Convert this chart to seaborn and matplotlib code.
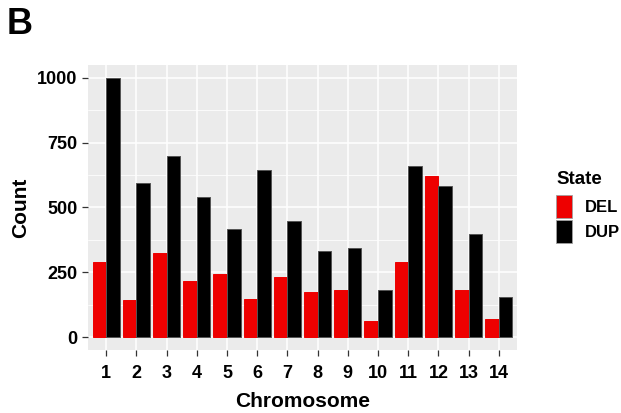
import matplotlib
matplotlib.use("Agg")
import matplotlib.pyplot as plt
from matplotlib.patches import Patch
from matplotlib.ticker import MultipleLocator
import seaborn as sns
import pandas as pd

chromosomes = [str(i) for i in range(1, 15)]
del_counts = [291, 142, 325, 216, 243, 148, 230, 175, 183, 60, 291, 621, 183, 68]
dup_counts = [1000, 596, 697, 542, 418, 643, 447, 331, 344, 183, 662, 582, 399, 156]
states = ["DEL", "DUP"]
colors = {"DEL": "#EE0000", "DUP": "#000000"}
edges = {"DEL": "#EE0000", "DUP": "#555555"}

df = pd.DataFrame({
    "Chromosome": chromosomes * 2,
    "Count": del_counts + dup_counts,
    "State": ["DEL"] * len(chromosomes) + ["DUP"] * len(chromosomes),
})

sns.set_theme(style="darkgrid")
plt.rcParams["font.family"] = ["Liberation Sans", "DejaVu Sans"]
plt.rcParams["text.color"] = "black"

fig = plt.figure(figsize=(6.21, 4.13), dpi=100)
ax = fig.add_axes([88 / 621, 1 - 350 / 413, (517 - 88) / 621, (350 - 65) / 413])
ax.set_facecolor("#EBEBEB")

sns.barplot(data=df, x="Chromosome", y="Count", hue="State", order=chromosomes,
            hue_order=states, palette=colors, width=0.9, saturation=1, ax=ax,
            linewidth=0.7, legend=False, zorder=3)
for state, container in zip(states, ax.containers):
    for bar in container:
        bar.set_edgecolor(edges[state])

ax.set_xlim(-0.6, 13.6)
ax.set_ylim(-50, 1050)
ax.yaxis.set_major_locator(MultipleLocator(250))
ax.yaxis.set_minor_locator(MultipleLocator(125))
ax.grid(True, which="major", color="white", linewidth=1.1, zorder=0)
ax.grid(True, which="minor", axis="y", color="white", linewidth=0.55, zorder=0)
ax.set_axisbelow(True)
for s in ax.spines.values():
    s.set_visible(False)

ax.tick_params(axis="both", which="major", length=4, width=0.9, color="#333333",
               labelsize=13, labelcolor="black", pad=3.5, direction="out")
ax.tick_params(axis="x", which="major", pad=7)
ax.tick_params(axis="y", which="minor", length=0)
ax.xaxis.set_ticks_position("bottom")
ax.yaxis.set_ticks_position("left")
for lab in ax.get_xticklabels() + ax.get_yticklabels():
    lab.set_fontweight("bold")

ax.set_xlabel("Chromosome", fontsize=15, fontweight="bold", color="black", labelpad=7)
ax.set_ylabel("Count", fontsize=15, fontweight="bold", color="black", labelpad=5)

handles = [Patch(facecolor=colors[s], edgecolor="#A0A0A0", linewidth=0.6, label=s) for s in states]
leg = fig.legend(handles=handles, title="State", loc="upper left",
                 bbox_to_anchor=(556 / 621, 1 - 171 / 413), frameon=False,
                 prop={"weight": "bold", "size": 12}, handlelength=0.96, handleheight=1.75,
                 handletextpad=0.8, labelspacing=0.12, borderaxespad=0, borderpad=0)
leg.get_title().set_fontweight("bold")
leg.get_title().set_fontsize(13.5)
leg._legend_box.align = "left"
leg._legend_box.sep = 5

fig.text(7 / 621, 1 - 24 / 413, "B", fontsize=26, fontweight="bold", va="center", ha="left")

fig.savefig("out.png", dpi=100, facecolor="white")
